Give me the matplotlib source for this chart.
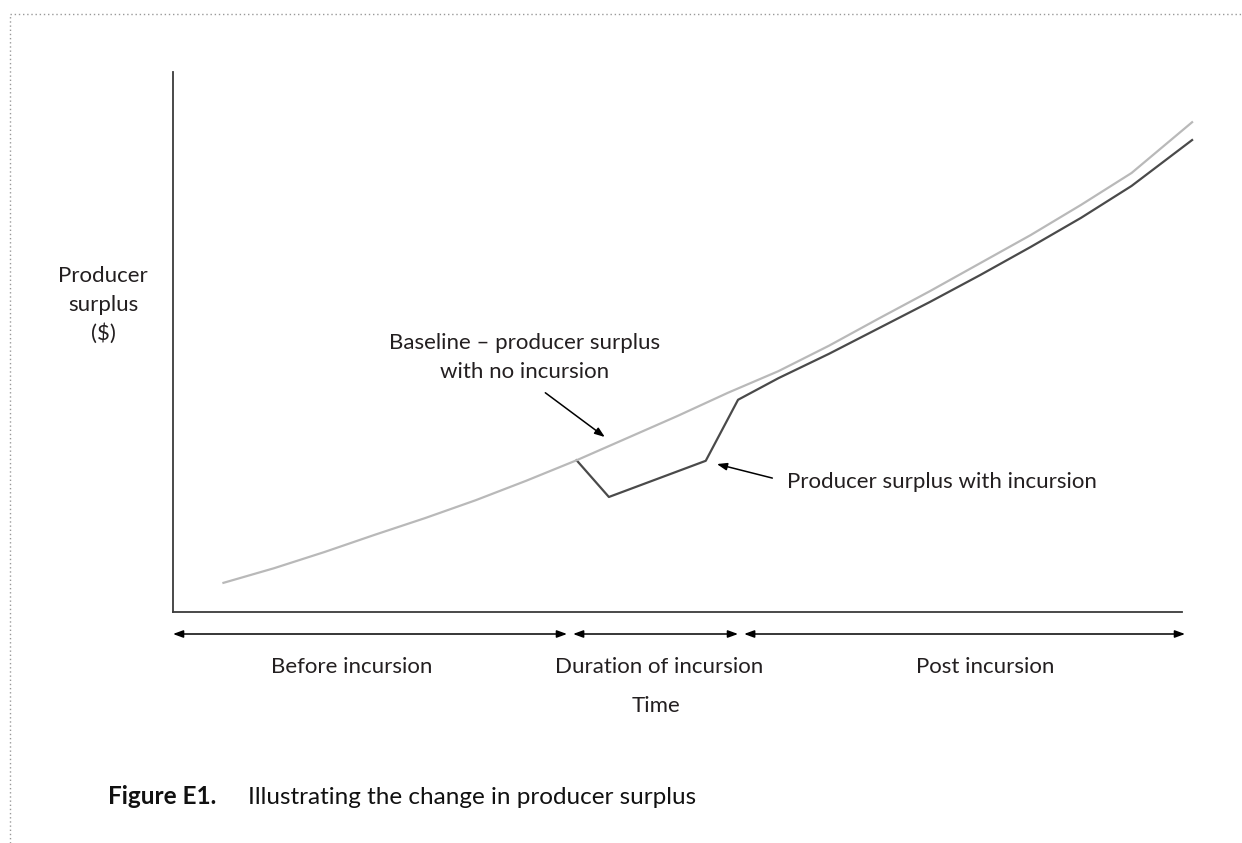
import matplotlib
matplotlib.use("Agg")
import matplotlib.pyplot as plt
from matplotlib.lines import Line2D
import matplotlib.transforms as mtransforms

# ---- data ----
base_t = [5, 10, 15, 20, 25, 30, 35, 40, 45, 50, 55, 60, 65, 70, 75, 80, 85, 90, 95, 101]
base_v = [5.4, 8.1, 11.1, 14.3, 17.4, 20.7, 24.3, 28.1, 32.2, 36.3, 40.6, 44.6, 49.3,
          54.4, 59.4, 64.6, 69.8, 75.4, 81.3, 90.7]
inc_t = [40, 43.2, 52.8, 56, 60, 65, 70, 75, 80, 85, 90, 95, 101]
inc_v = [28.1, 21.3, 28.0, 39.3, 43.3, 47.8, 52.6, 57.4, 62.4, 67.6, 73.0, 78.9, 87.4]
period_bounds = [0, 39.35, 56.3, 100.6]
period_labels = ["Before incursion", "Duration of incursion", "Post incursion"]
period_label_x = [17.7, 48.2, 80.5]

FONT = ["Lato", "DejaVu Sans"]
plt.rcParams["font.family"] = FONT
TXT = "#231f20"
FS = 16
W = "normal"

fig = plt.figure(figsize=(12.42, 8.43), dpi=100)
ax = fig.add_axes([173/1242, 1-612/843, (1182-173)/1242, (612-72)/843])
ax.set_xlim(0, 100)
ax.set_ylim(0, 100)

ax.plot(base_t, base_v, color="#b9b9b9", lw=1.6, clip_on=False, zorder=3)
ax.plot(inc_t, inc_v, color="#4a4a4a", lw=1.6, clip_on=False, zorder=2)

for s in ["top", "right"]:
    ax.spines[s].set_visible(False)
for s in ["left", "bottom"]:
    ax.spines[s].set_color("#3a3a3a")
    ax.spines[s].set_linewidth(1.3)
ax.set_xticks([])
ax.set_yticks([])

ARW = dict(color="black", lw=1.1, shrinkA=0, shrinkB=0)

# period arrows below axis
trans = mtransforms.blended_transform_factory(ax.transData, ax.transAxes)
y_arrow = -22/540
gap = 0.3
for i in range(3):
    x0 = period_bounds[i] + (gap if i > 0 else 0)
    x1 = period_bounds[i+1] - gap
    ax.annotate("", xy=(x1, y_arrow), xytext=(x0, y_arrow), xycoords=trans, textcoords=trans,
                arrowprops=dict(arrowstyle="<|-|>,head_length=0.6,head_width=0.22", **ARW),
                annotation_clip=False)
    ax.text(period_label_x[i], -55/540, period_labels[i], transform=trans, ha="center",
            va="center", fontsize=FS, color=TXT, fontweight=W)

ax.text(47.9, -94/540, "Time", transform=trans, ha="center", va="center", fontsize=FS,
        color=TXT, fontweight=W)

# y label
fig.text(103/1242, 1-305/843, "Producer\nsurplus\n($)", ha="center", va="center",
         fontsize=FS, color=TXT, linespacing=1.55, fontweight=W)

# annotations
ax.text(34.8, 47.2, "Baseline – producer surplus\nwith no incursion", ha="center", va="center",
        fontsize=FS, color=TXT, linespacing=1.55, fontweight=W)
ax.annotate("", xy=(42.8, 32.4), xytext=(36.9, 40.6),
            arrowprops=dict(arrowstyle="-|>,head_length=0.6,head_width=0.22", **ARW))
ax.text(60.9, 24.1, "Producer surplus with incursion", ha="left", va="center",
        fontsize=FS, color=TXT, fontweight=W)
ax.annotate("", xy=(53.9, 27.4), xytext=(59.4, 24.8),
            arrowprops=dict(arrowstyle="-|>,head_length=0.6,head_width=0.22", **ARW))

# caption
fig.text(108/1242, 1-797/843, "Figure E1.", ha="left", va="center", fontsize=17.5,
         fontweight="bold", color="#111111")
fig.text(248/1242, 1-797/843, "Illustrating the change in producer surplus", ha="left",
         va="center", fontsize=17.5, color="#111111")

# dotted frame
fig.add_artist(Line2D([10/1242, 1], [1-14/843, 1-14/843], transform=fig.transFigure,
                      color="#999999", lw=1, linestyle=(0, (1, 2))))
fig.add_artist(Line2D([10/1242, 10/1242], [0, 1-14/843], transform=fig.transFigure,
                      color="#999999", lw=1, linestyle=(0, (1, 2))))

fig.savefig("out.png", dpi=100)
